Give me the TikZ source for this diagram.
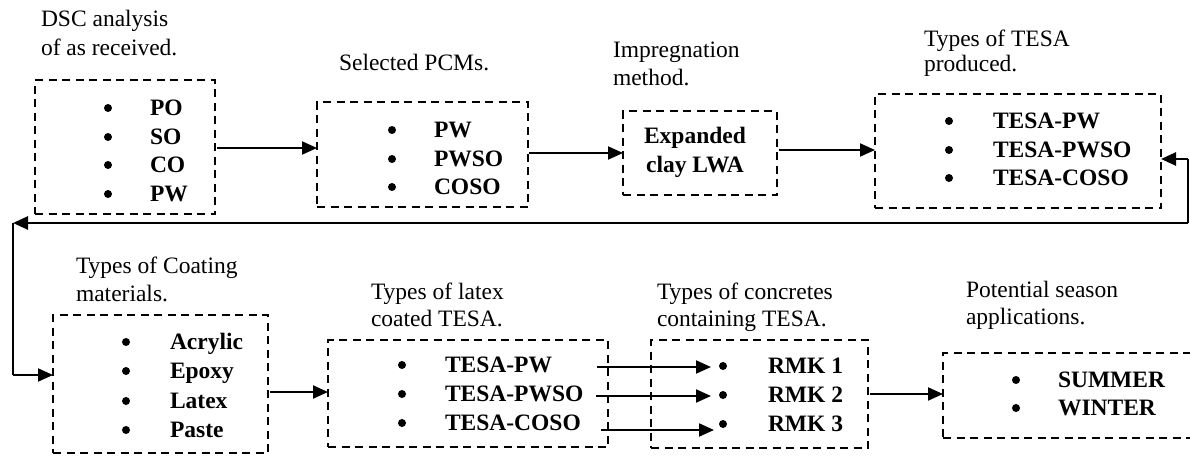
\documentclass[tikz,border=0pt]{standalone}
\usepackage{fontspec}
\setmainfont{Liberation Serif}
\usetikzlibrary{arrows.meta,fit}
\begin{document}
\begin{tikzpicture}[x=1pt,y=-1pt,
  every node/.style={inner sep=0pt, outer sep=0pt},
  lbl/.style={anchor=base west, font=\fontsize{23.5}{28}\selectfont},
  itm/.style={anchor=base west, font=\fontsize{23.5}{28}\selectfont\bfseries},
  ctr/.style={anchor=base, font=\fontsize{23.5}{28}\selectfont\bfseries},
  bul/.style={circle, fill=black, minimum size=8pt, yshift=7pt},
  dbox/.style={draw, line width=2pt, dash pattern=on 8pt off 5.5pt, rectangle, inner sep=0pt},
  arr/.style={line width=2pt, -{Triangle[length=15pt,width=13pt]}},
  ret/.style={line width=2.6pt},
  reta/.style={line width=2.6pt, -{Triangle[length=15pt,width=13pt]}}
]
\useasboundingbox (0,0) rectangle (1190,455);

% boxes
\node[dbox, fit={(35,80) (215,214)}] (b1) {};
\node[dbox, fit={(317,102) (528,207)}] (b2) {};
\node[dbox, fit={(623,111) (777,195)}] (b3) {};
\node[dbox, fit={(875,94) (1161,208)}] (b4) {};
\node[dbox, fit={(53,315) (268,453)}] (b5) {};
\node[dbox, fit={(328,340) (608,447)}] (b6) {};
\node[dbox, fit={(651,340) (868,448)}] (b7) {};
\node[dbox, fit={(943,353) (1200,438)}] (b8) {};

% labels
\node[lbl] (l1a) at (41,27) {DSC analysis};
\node[lbl] (l1b) at (41,55) {of as received.};
\node[lbl] (l2) at (339,70) {Selected PCMs.};
\node[lbl] (l3a) at (613,57) {Impregnation};
\node[lbl] (l3b) at (613,85) {method.};
\node[lbl] (l4a) at (924,46) {Types of TESA};
\node[lbl] (l4b) at (924,71) {produced.};
\node[lbl] (l5a) at (76,273) {Types of Coating};
\node[lbl] (l5b) at (76,301) {materials.};
\node[lbl] (l6a) at (371,299) {Types of latex};
\node[lbl] (l6b) at (371,326) {coated TESA.};
\node[lbl] (l7a) at (657,299) {Types of concretes};
\node[lbl] (l7b) at (657,326) {containing TESA.};
\node[lbl] (l8a) at (966,297) {Potential season};
\node[lbl] (l8b) at (966,324) {applications.};

% box 1 items
\node[bul] (d11) at (108,115) {}; \node[itm] (t11) at (150,115) {PO};
\node[bul] (d12) at (108,144) {}; \node[itm] (t12) at (150,144) {SO};
\node[bul] (d13) at (108,172) {}; \node[itm] (t13) at (150,172) {CO};
\node[bul] (d14) at (108,201) {}; \node[itm] (t14) at (150,201) {PW};
% box 2
\node[bul] (d21) at (392,137) {}; \node[itm] (t21) at (434,137) {PW};
\node[bul] (d22) at (392,166) {}; \node[itm] (t22) at (434,166) {PWSO};
\node[bul] (d23) at (392,194) {}; \node[itm] (t23) at (434,194) {COSO};
% box 3
\node[ctr] (t31) at (695,143) {Expanded};
\node[ctr] (t32) at (695,172) {clay LWA};
% box 4
\node[bul] (d41) at (949,128) {}; \node[itm] (t41) at (993,128) {TESA-PW};
\node[bul] (d42) at (949,157) {}; \node[itm] (t42) at (993,157) {TESA-PWSO};
\node[bul] (d43) at (949,185) {}; \node[itm] (t43) at (993,185) {TESA-COSO};
% box 5
\node[bul] (d51) at (126,349) {}; \node[itm] (t51) at (170,349) {Acrylic};
\node[bul] (d52) at (126,378) {}; \node[itm] (t52) at (170,378) {Epoxy};
\node[bul] (d53) at (126,408) {}; \node[itm] (t53) at (170,408) {Latex};
\node[bul] (d54) at (126,437) {}; \node[itm] (t54) at (170,437) {Paste};
% box 6
\node[bul] (d61) at (402,372) {}; \node[itm] (t61) at (445,372) {TESA-PW};
\node[bul] (d62) at (402,401) {}; \node[itm] (t62) at (445,401) {TESA-PWSO};
\node[bul] (d63) at (402,430) {}; \node[itm] (t63) at (445,430) {TESA-COSO};
% box 7
\node[bul] (d71) at (723,373) {}; \node[itm] (t71) at (768,373) {RMK 1};
\node[bul] (d72) at (723,402) {}; \node[itm] (t72) at (768,402) {RMK 2};
\node[bul] (d73) at (723,431) {}; \node[itm] (t73) at (768,431) {RMK 3};
% box 8
\node[bul] (d81) at (1016,387) {}; \node[itm] (t81) at (1058,387) {SUMMER};
\node[bul] (d82) at (1016,415) {}; \node[itm] (t82) at (1058,415) {WINTER};

% connectors
\coordinate (a1) at (217,148);
\draw[arr] (a1) -- (a1 -| b2.west);
\coordinate (a2) at (529,153);
\draw[arr] (a2) -- (a2 -| b3.west);
\coordinate (a3) at (779,150);
\draw[arr] (a3) -- (a3 -| b4.west);

\coordinate (r1) at (1188,159);
\coordinate (r2) at (1188,223);
\coordinate (r3) at (13,223);
\coordinate (r4) at (13,375);
\draw[reta] (r1) -- (r1 -| b4.east);
\draw[ret] (r1) -- (r2);
\draw[reta] (r2) -- (r3);
\draw[ret] (r3) -- (r4);
\draw[arr] (r4) -- (r4 -| b5.west);

\coordinate (a4) at (270,392);
\draw[arr] (a4) -- (a4 -| b6.west);

\coordinate (c1) at (597,367);
\coordinate (c1e) at (711,367);
\draw[arr] (c1) -- (c1e);
\coordinate (c2) at (596,396);
\coordinate (c2e) at (711,396);
\draw[arr] (c2) -- (c2e);
\coordinate (c3) at (601,430);
\coordinate (c3e) at (714,430);
\draw[arr] (c3) -- (c3e);

\coordinate (a5) at (870,394);
\draw[arr] (a5) -- (a5 -| b8.west);
\end{tikzpicture}
\end{document}
